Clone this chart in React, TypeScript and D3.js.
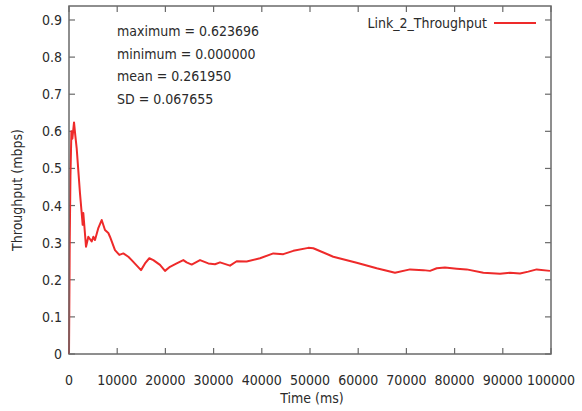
import { useEffect, useRef } from 'react'
import * as d3 from 'd3'

// Link_2 throughput over time (ms, mbps)
const timeMs = [
  0, 150, 300, 500, 700, 1040, 1300, 1590, 2280, 2630, 2840, 2970, 3530, 4010, 4700, 5050, 5390,
  6100, 6780, 7470, 8160, 8500, 9540, 10440, 11270, 12310, 13000, 14940, 15770, 16660, 17500,
  18880, 19920, 20950, 22340, 23720, 24400, 25450, 27180, 28900, 30290, 31330, 33400, 34790,
  36870, 39630, 42390, 44460, 46540, 49650, 50690, 54830, 59680, 63830, 67630, 70750, 73510,
  74900, 76290, 78000, 80430, 82500, 85960, 89420, 91490, 93570, 95290, 97030, 99790,
]
const throughput = [
  0, 0.3, 0.48, 0.6, 0.58, 0.624, 0.59, 0.555, 0.433, 0.38, 0.348, 0.38, 0.289, 0.316, 0.303,
  0.316, 0.307, 0.34, 0.361, 0.334, 0.326, 0.316, 0.28, 0.267, 0.271, 0.262, 0.253, 0.226, 0.244,
  0.258, 0.253, 0.24, 0.224, 0.235, 0.244, 0.253, 0.247, 0.241, 0.253, 0.244, 0.242, 0.247, 0.238,
  0.25, 0.249, 0.258, 0.271, 0.269, 0.278, 0.286, 0.285, 0.262, 0.246, 0.231, 0.219, 0.228, 0.226,
  0.224, 0.231, 0.233, 0.23, 0.228, 0.219, 0.216, 0.219, 0.217, 0.222, 0.228, 0.224,
]
const xTicks = [0, 10000, 20000, 30000, 40000, 50000, 60000, 70000, 80000, 90000, 100000]
const yTicks = [0, 0.1, 0.2, 0.3, 0.4, 0.5, 0.6, 0.7, 0.8, 0.9]
const statLines = ['maximum = 0.623696', 'minimum = 0.000000', 'mean = 0.261950', 'SD = 0.067655']
const seriesName = 'Link_2_Throughput'

const width = 582
const height = 411
const font = "'DejaVu Sans Condensed', 'DejaVu Sans', sans-serif"

export default function App() {
  const svgRef = useRef<SVGSVGElement>(null)

  useEffect(() => {
    if (!svgRef.current) return
    const svg = d3.select(svgRef.current)
    svg.selectAll('*').remove()

    const left = 69, right = 551, top = 6, bottom = 354
    const x = d3.scaleLinear().domain([0, 100000]).range([left, right])
    const y = d3.scaleLinear().domain([0, 0.9377]).range([bottom, top])
    const axisColor = '#6a6a6a'
    const tickLen = 6

    // ticks on all four sides, pointing in
    const g = svg.append('g').attr('stroke', axisColor).attr('stroke-width', 1.2)
    xTicks.forEach(t => {
      g.append('line').attr('x1', x(t)).attr('x2', x(t)).attr('y1', bottom).attr('y2', bottom - tickLen)
      g.append('line').attr('x1', x(t)).attr('x2', x(t)).attr('y1', top).attr('y2', top + tickLen)
    })
    yTicks.forEach(t => {
      g.append('line').attr('x1', left).attr('x2', left + tickLen).attr('y1', y(t)).attr('y2', y(t))
      g.append('line').attr('x1', right).attr('x2', right - tickLen).attr('y1', y(t)).attr('y2', y(t))
    })

    const txt = svg.append('g')
      .attr('font-family', font)
      .attr('font-size', 14)
      .attr('fill', '#2a2a2a')

    txt.selectAll('.xl')
      .data(xTicks)
      .join('text')
      .attr('x', d => x(d))
      .attr('y', 385)
      .attr('text-anchor', 'middle')
      .text(d => String(d))

    txt.selectAll('.yl')
      .data(yTicks)
      .join('text')
      .attr('x', 62)
      .attr('y', d => y(d) + 5)
      .attr('text-anchor', 'end')
      .text(d => d3.format('')(+d.toFixed(1)))

    txt.append('text')
      .attr('x', 312)
      .attr('y', 403)
      .attr('text-anchor', 'middle')
      .text('Time (ms)')

    txt.append('text')
      .attr('transform', 'translate(22, 190) rotate(-90)')
      .attr('text-anchor', 'middle')
      .text('Throughput (mbps)')

    statLines.forEach((s, i) => {
      txt.append('text')
        .attr('x', 117)
        .attr('y', 36 + i * 22.7)
        .text(s)
    })

    // legend
    txt.append('text')
      .attr('x', 487)
      .attr('y', 28)
      .attr('text-anchor', 'end')
      .text(seriesName)
    svg.append('line')
      .attr('x1', 494).attr('x2', 536)
      .attr('y1', 23).attr('y2', 23)
      .attr('stroke', '#ee2a2a')
      .attr('stroke-width', 2)

    const pts = timeMs.map((t, i) => [t, throughput[i]] as [number, number])
    const line = d3.line<[number, number]>()
      .x(d => x(d[0]))
      .y(d => y(d[1]))
    svg.append('path')
      .attr('d', line(pts) || '')
      .attr('fill', 'none')
      .attr('stroke', '#ee2a2a')
      .attr('stroke-width', 2)
      .attr('stroke-linejoin', 'round')

    // frame
    svg.append('rect')
      .attr('x', left).attr('y', top)
      .attr('width', right - left).attr('height', bottom - top)
      .attr('fill', 'none')
      .attr('stroke', axisColor)
      .attr('stroke-width', 1.5)
  }, [])

  return (
    <svg
      ref={svgRef}
      width={width}
      height={height}
      style={{ position: 'absolute', left: 0, top: 0, background: '#fff' }}
    />
  )
}
